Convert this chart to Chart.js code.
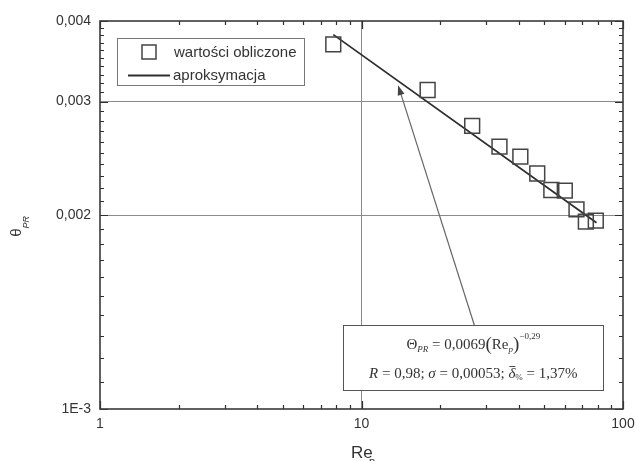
<!DOCTYPE html>
<html>
<head>
<meta charset="utf-8">
<script src="https://cdn.jsdelivr.net/npm/chart.js@4.4.0/dist/chart.umd.min.js"></script>
<style>html,body{margin:0;padding:0;background:#fff}</style>
</head>
<body>
<canvas id="c" width="635" height="461"></canvas>
<script>
// measured points (Re_p, theta_PR)
const reValues = [7.8, 17.9, 26.5, 33.7, 40.5, 47.0, 53.2, 59.9, 66.4, 72.1, 78.7];
const thetaValues = [0.00368, 0.003126, 0.00275, 0.002553, 0.002464, 0.00232, 0.002187, 0.002182, 0.002041, 0.001953, 0.00196];
// approximation line ends
const fitRe = [7.8, 79.2];
const fitTheta = [0.00381, 0.001946];
// axes
const xTicks = [1, 10, 100];
const xTickLabels = ['1', '10', '100'];
const yTicks = [0.001, 0.002, 0.003, 0.004];
const yTickLabels = ['1E-3', '0,002', '0,003', '0,004'];
// annotation anchors, in data units
const arrowTip = [13.8, 0.00318];
const arrowTail = [27.0, 0.00135];
const noteBoxX = [8.53, 84];
const noteBoxY = [0.00107, 0.00135];

const ink = '#2e2e2e';
const sans = '"Liberation Sans", Arial, sans-serif';
const serif = '"Liberation Serif", "Times New Roman", serif';

// minor ticks of a log decade axis
function minorTicks(min, max) {
	var out = [], d, k;
	for (d = min; d < max; d *= 10) {
		for (k = 2; k <= 9; k++) if (d * k < max) out.push(d * k);
	}
	return out;
}
function minorLinear(min, max, step) {
	var out = [], v;
	for (v = min + step; v < max - step / 2; v += step) {
		if (yTicks.every(function(t){ return Math.abs(t - v) > step / 2; })) out.push(v);
	}
	return out;
}

// draw a run of text pieces (for sub/superscripts), centred on cx
function drawPieces(ctx, pieces, cx, baseline) {
	var w = 0, i, p;
	for (i = 0; i < pieces.length; i++) {
		ctx.font = pieces[i].f;
		pieces[i].w = ctx.measureText(pieces[i].t).width;
		w += pieces[i].w;
	}
	var x = cx - w / 2;
	ctx.textAlign = 'left';
	ctx.textBaseline = 'alphabetic';
	for (i = 0; i < pieces.length; i++) {
		p = pieces[i];
		ctx.font = p.f;
		ctx.fillText(p.t, x, baseline + (p.dy || 0));
		if (p.bar) {
			ctx.beginPath();
			ctx.moveTo(x + 1, baseline - 11.5);
			ctx.lineTo(x + p.w, baseline - 11.5);
			ctx.lineWidth = 0.9;
			ctx.stroke();
		}
		x += p.w;
	}
}

const decorations = {
	id: 'decorations',
	afterDatasetsDraw(chart) {
		const ctx = chart.ctx, a = chart.chartArea, xs = chart.scales.x, ys = chart.scales.y;
		ctx.save();

		// inward ticks on all four sides
		ctx.strokeStyle = ink;
		ctx.lineWidth = 1.2;
		function xt(v, len) {
			var px = Math.round(xs.getPixelForValue(v)) + 0.5;
			ctx.beginPath();
			ctx.moveTo(px, a.bottom); ctx.lineTo(px, a.bottom - len);
			ctx.moveTo(px, a.top); ctx.lineTo(px, a.top + len);
			ctx.stroke();
		}
		function yt(v, len) {
			var py = Math.round(ys.getPixelForValue(v)) + 0.5;
			ctx.beginPath();
			ctx.moveTo(a.left, py); ctx.lineTo(a.left + len, py);
			ctx.moveTo(a.right, py); ctx.lineTo(a.right - len, py);
			ctx.stroke();
		}
		xTicks.forEach(function(v){ xt(v, 8); });
		minorTicks(1, 100).forEach(function(v){ xt(v, 4); });
		yTicks.forEach(function(v){ yt(v, 8); });
		minorLinear(0.001, 0.004, 0.0001).forEach(function(v){ yt(v, 4); });

		// frame
		ctx.lineWidth = 1.6;
		ctx.strokeStyle = '#3a3a3a';
		ctx.strokeRect(a.left, a.top, a.right - a.left, a.bottom - a.top);

		// legend
		ctx.fillStyle = '#fff';
		ctx.fillRect(117, 38.5, 187, 47);
		ctx.lineWidth = 1;
		ctx.strokeStyle = '#777';
		ctx.strokeRect(117.5, 38.5, 187, 47);
		ctx.strokeStyle = '#444';
		ctx.lineWidth = 1.5;
		ctx.strokeRect(142, 45, 14, 14);
		ctx.strokeStyle = ink;
		ctx.lineWidth = 1.8;
		ctx.beginPath(); ctx.moveTo(128, 75.5); ctx.lineTo(170, 75.5); ctx.stroke();
		ctx.fillStyle = '#333';
		ctx.font = '15px ' + sans;
		ctx.textAlign = 'left';
		ctx.textBaseline = 'middle';
		ctx.fillText('wartości obliczone', 174, 53);
		ctx.fillText('aproksymacja', 173, 76);

		// arrow to the approximation line
		var tx = xs.getPixelForValue(arrowTip[0]), ty = ys.getPixelForValue(arrowTip[1]);
		var sx = xs.getPixelForValue(arrowTail[0]), sy = ys.getPixelForValue(arrowTail[1]);
		var ang = Math.atan2(ty - sy, tx - sx);
		ctx.strokeStyle = '#666';
		ctx.fillStyle = '#444';
		ctx.lineWidth = 1.2;
		ctx.beginPath(); ctx.moveTo(sx, sy); ctx.lineTo(tx - 6 * Math.cos(ang), ty - 6 * Math.sin(ang)); ctx.stroke();
		ctx.beginPath();
		ctx.moveTo(tx, ty);
		ctx.lineTo(tx - 10 * Math.cos(ang) + 3.5 * Math.sin(ang), ty - 10 * Math.sin(ang) - 3.5 * Math.cos(ang));
		ctx.lineTo(tx - 10 * Math.cos(ang) - 3.5 * Math.sin(ang), ty - 10 * Math.sin(ang) + 3.5 * Math.cos(ang));
		ctx.closePath();
		ctx.fill();

		// equation box
		var bl = xs.getPixelForValue(noteBoxX[0]), br = xs.getPixelForValue(noteBoxX[1]);
		var bt = ys.getPixelForValue(noteBoxY[1]), bb = ys.getPixelForValue(noteBoxY[0]);
		ctx.fillStyle = '#fff';
		ctx.fillRect(bl, bt, br - bl, bb - bt);
		ctx.strokeStyle = '#555';
		ctx.lineWidth = 1;
		ctx.strokeRect(Math.round(bl) + 0.5, Math.round(bt) + 0.5, Math.round(br - bl), Math.round(bb - bt));
		ctx.fillStyle = '#333';
		ctx.strokeStyle = '#333';
		var cx = (bl + br) / 2;
		drawPieces(ctx, [
			{t: 'Θ', f: '15px ' + serif},
			{t: 'PR', f: 'italic 9px ' + serif, dy: 3},
			{t: ' = 0,0069', f: '15px ' + serif},
			{t: '(', f: '19px ' + serif, dy: 1},
			{t: 'Re', f: '15px ' + serif},
			{t: 'p', f: 'italic 9px ' + serif, dy: 3},
			{t: ')', f: '19px ' + serif, dy: 1},
			{t: '−0,29', f: '9px ' + serif, dy: -10}
		], cx, 349);
		drawPieces(ctx, [
			{t: 'R', f: 'italic 15px ' + serif},
			{t: ' = 0,98; ', f: '15px ' + serif},
			{t: 'σ', f: 'italic 15px ' + serif},
			{t: ' = 0,00053; ', f: '15px ' + serif},
			{t: 'δ', f: 'italic 15px ' + serif, bar: true},
			{t: '%', f: '9px ' + serif, dy: 2},
			{t: ' = 1,37%', f: '15px ' + serif}
		], cx, 378);

		// axis titles
		ctx.fillStyle = '#333';
		ctx.textAlign = 'left';
		ctx.textBaseline = 'alphabetic';
		ctx.font = '17px ' + sans;
		ctx.fillText('Re', 351, 458);
		ctx.font = '11px ' + sans;
		ctx.fillText('p', 369, 465);

		ctx.translate(16.5, 232.5);
		ctx.rotate(-Math.PI / 2);
		ctx.textBaseline = 'middle';
		ctx.textAlign = 'center';
		ctx.font = '15px ' + sans;
		ctx.fillText('θ', 0, 0);
		ctx.textAlign = 'left';
		ctx.font = 'italic 9px ' + sans;
		ctx.fillText('PR', 4, 10);
		ctx.restore();
	}
};

new Chart(document.getElementById('c'), {
	type: 'scatter',
	data: {
		datasets: [{
			label: 'wartości obliczone',
			data: reValues.map(function(r, i){ return {x: r, y: thetaValues[i]}; }),
			pointStyle: 'rect',
			pointRadius: 10.5,
			backgroundColor: 'rgba(0,0,0,0)',
			borderColor: '#444',
			borderWidth: 1.5
		}, {
			label: 'aproksymacja',
			data: fitRe.map(function(r, i){ return {x: r, y: fitTheta[i]}; }),
			showLine: true,
			pointRadius: 0,
			borderColor: ink,
			borderWidth: 1.8
		}]
	},
	options: {
		responsive: false,
		animation: false,
		events: [],
		layout: {padding: {top: 21, right: 10, left: 0, bottom: 0}},
		plugins: {legend: {display: false}, tooltip: {enabled: false}},
		scales: {
			x: {
				type: 'logarithmic', min: 1, max: 100,
				afterBuildTicks: function(s){ s.ticks = xTicks.map(function(v){ return {value: v}; }); },
				afterFit: function(s){ s.height = 52; s.paddingRight = 0; },
				border: {display: false},
				grid: {
					drawTicks: false,
					color: function(c){ var v = c.tick && c.tick.value; return (v === 1 || v === 100) ? 'rgba(0,0,0,0)' : '#8a8a8a'; },
					lineWidth: 1
				},
				ticks: {
					autoSkip: false, maxRotation: 0, padding: 7,
					color: '#333', font: {family: sans, size: 14},
					callback: function(v){ var i = xTicks.indexOf(v); return i < 0 ? '' : xTickLabels[i]; }
				}
			},
			y: {
				type: 'logarithmic', min: 0.001, max: 0.004,
				afterBuildTicks: function(s){ s.ticks = yTicks.map(function(v){ return {value: v}; }); },
				afterFit: function(s){ s.width = 100; },
				border: {display: false},
				grid: {
					drawTicks: false,
					color: function(c){ var v = c.tick && c.tick.value; return (v === 0.001 || v === 0.004) ? 'rgba(0,0,0,0)' : '#8a8a8a'; },
					lineWidth: 1
				},
				ticks: {
					autoSkip: false, padding: 9,
					color: '#333', font: {family: sans, size: 14},
					callback: function(v){ var i = yTicks.indexOf(v); return i < 0 ? '' : yTickLabels[i]; }
				}
			}
		}
	},
	plugins: [decorations]
});
</script>
</body>
</html>
